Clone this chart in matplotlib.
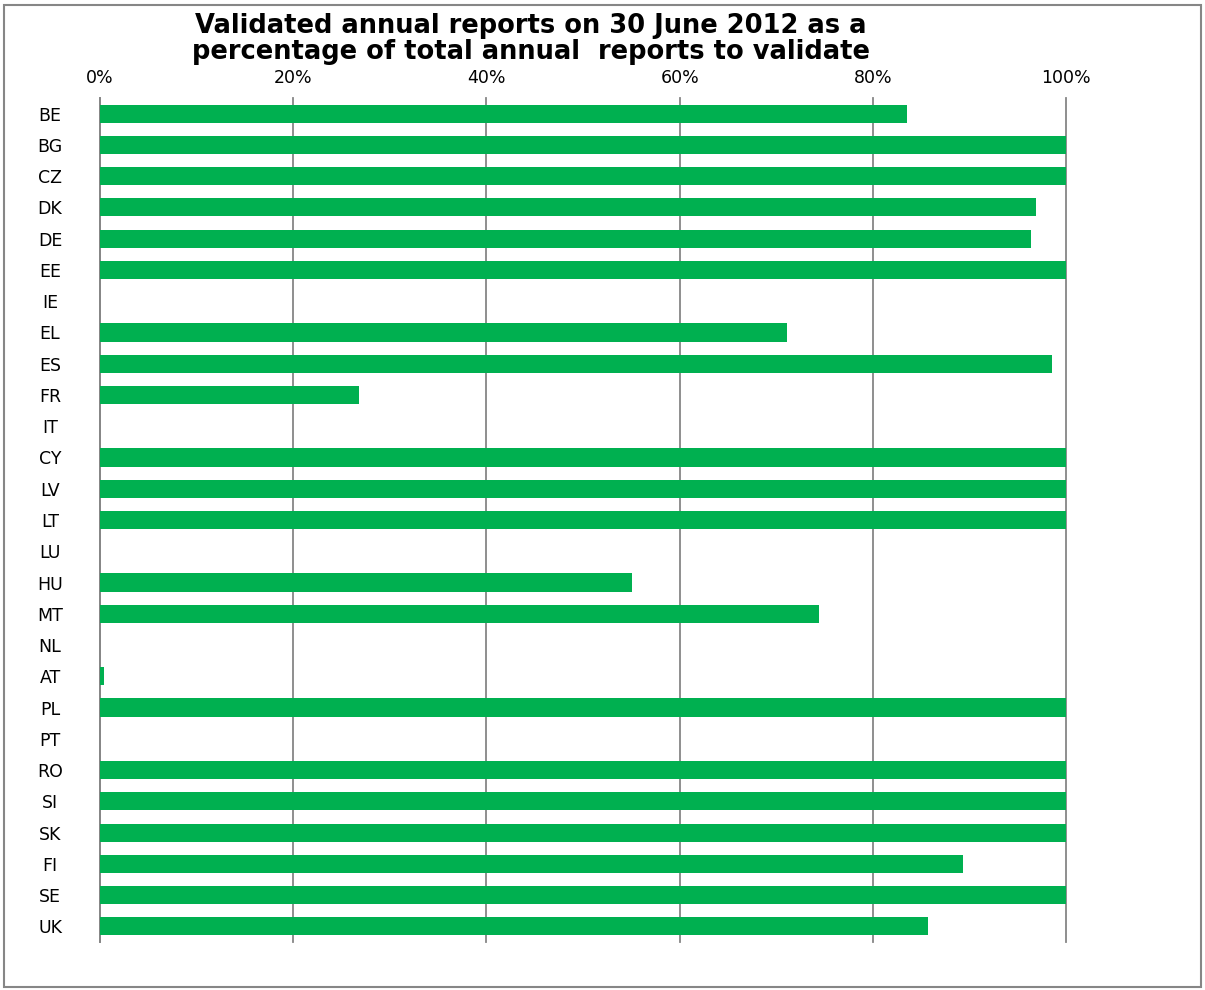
import matplotlib.pyplot as plt
from matplotlib.patches import Rectangle
from matplotlib.ticker import PercentFormatter

# Validated annual reports per member state, in %
countries = ['BE', 'BG', 'CZ', 'DK', 'DE', 'EE', 'IE', 'EL', 'ES', 'FR', 'IT',
             'CY', 'LV', 'LT', 'LU', 'HU', 'MT', 'NL', 'AT', 'PL', 'PT', 'RO',
             'SI', 'SK', 'FI', 'SE', 'UK']
validated = [83.5, 100, 100, 96.9, 96.4, 100, 0, 71.1, 98.5, 26.8, 0,
             100, 100, 100, 0, 55.1, 74.4, 0, 0.4, 100, 0, 100,
             100, 100, 89.3, 100, 85.7]
x_ticks = [0, 20, 40, 60, 80, 100]

fig = plt.figure(figsize=(12.05, 9.9), dpi=100)
ax = fig.add_axes([0.083, 0.0485, 0.8017, 0.8525])

y = list(range(len(countries)))
ax.barh(y, validated, height=0.58, color='#00B050', zorder=3)

ax.set_xlim(0, 100)
ax.set_ylim(len(countries) - 0.5, -0.5)
ax.set_yticks(y)
ax.set_yticklabels(countries, ha='center')
ax.set_xticks(x_ticks)
ax.xaxis.set_major_formatter(PercentFormatter(decimals=0))
ax.xaxis.tick_top()
ax.tick_params(axis='x', length=0, pad=8, labelsize=12.5, colors='black')
ax.tick_params(axis='y', length=0, pad=36, labelsize=12.5, colors='black')

ax.grid(axis='x', color='#868686', linewidth=1.3, zorder=0)
for line in ax.get_xgridlines():
    line.set_clip_on(False)
for s in ['top', 'right', 'bottom']:
    ax.spines[s].set_visible(False)
ax.spines['left'].set_color('#868686')
ax.spines['left'].set_linewidth(1.3)

fig.text(0.4405, 0.961,
         'Validated annual reports on 30 June 2012 as a\n'
         'percentage of total annual  reports to validate',
         ha='center', va='center', fontsize=18.5, fontweight='bold',
         linespacing=1.0)

# outer chart frame
fig.patches.append(Rectangle((0.003, 0.003), 0.994, 0.992, transform=fig.transFigure,
                             fill=False, edgecolor='#868686', linewidth=1.5))

fig.savefig('out.png', dpi=100)
